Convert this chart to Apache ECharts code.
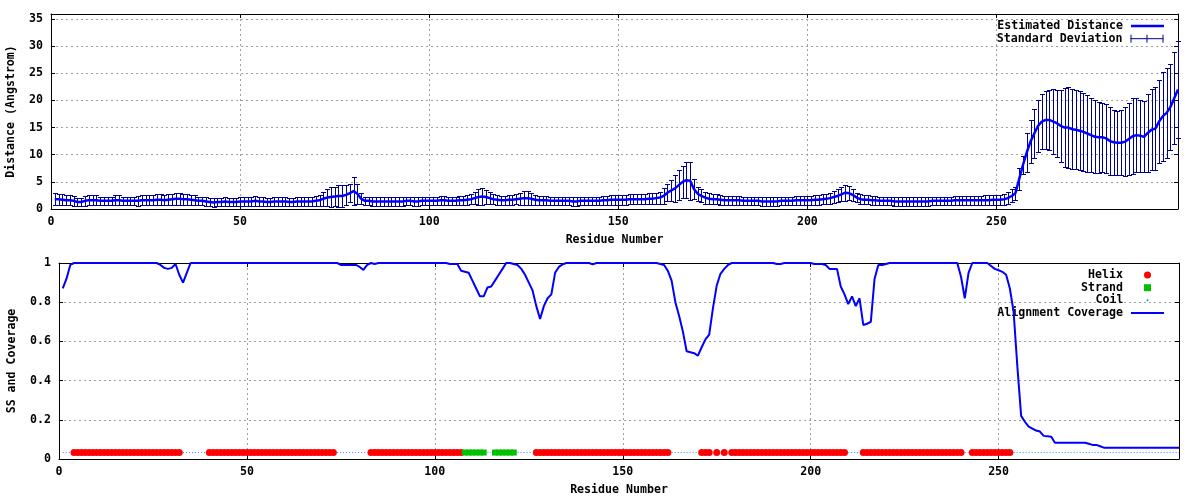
<!DOCTYPE html>
<html><head><meta charset="utf-8">
<script src="https://cdn.jsdelivr.net/npm/echarts@6/dist/echarts.min.js"></script>
<style>html,body{margin:0;padding:0;background:#fff}#c{width:1200px;height:500px}</style>
</head><body><div id="c"></div>
<script>
// ---------- data ----------
const residueStart = 1;
const residueAxisMax = 298;
const distanceAxisMax = 35.9;
const residueTickStep = 50;
const distanceTickStep = 5;
const coverageTickStep = 0.2;

const estimatedDistance = [
1.8,1.8,1.7,1.6,1.6,1.5,1.3,1.3,1.5,1.6,
1.6,1.6,1.5,1.5,1.5,1.5,1.6,1.6,1.5,1.5,
1.5,1.5,1.5,1.6,1.6,1.6,1.6,1.7,1.7,1.6,
1.7,1.8,1.9,1.9,1.8,1.8,1.7,1.6,1.5,1.5,
1.4,1.3,1.2,1.3,1.3,1.4,1.3,1.3,1.3,1.4,
1.4,1.4,1.4,1.5,1.4,1.4,1.3,1.3,1.4,1.4,
1.4,1.4,1.3,1.3,1.4,1.4,1.4,1.4,1.4,1.5,
1.6,1.9,2.1,2.2,2.3,2.4,2.4,2.6,2.9,3.3,
2.8,1.9,1.5,1.5,1.4,1.4,1.4,1.4,1.4,1.4,
1.4,1.4,1.4,1.5,1.5,1.4,1.4,1.5,1.5,1.5,
1.5,1.5,1.6,1.6,1.5,1.5,1.5,1.6,1.6,1.7,
1.8,2.0,2.2,2.3,2.2,2.0,1.8,1.7,1.6,1.6,
1.7,1.7,1.8,1.9,2.0,2.0,1.9,1.7,1.6,1.6,
1.6,1.5,1.5,1.5,1.5,1.5,1.5,1.4,1.4,1.5,
1.5,1.5,1.5,1.5,1.5,1.6,1.6,1.7,1.7,1.7,
1.7,1.7,1.8,1.8,1.8,1.8,1.8,1.9,1.9,2.0,
2.1,2.4,3.0,3.4,3.8,4.4,5.0,5.3,5.2,3.7,
2.8,2.4,2.1,1.9,1.8,1.8,1.7,1.6,1.6,1.6,
1.6,1.6,1.5,1.5,1.5,1.5,1.5,1.4,1.4,1.4,
1.4,1.4,1.5,1.5,1.5,1.5,1.6,1.6,1.6,1.6,
1.6,1.7,1.7,1.8,1.9,2.0,2.2,2.4,2.7,3.0,
2.9,2.6,2.1,1.8,1.7,1.7,1.6,1.6,1.5,1.5,
1.5,1.5,1.4,1.4,1.4,1.4,1.4,1.4,1.4,1.4,
1.4,1.4,1.5,1.5,1.5,1.5,1.5,1.5,1.6,1.6,
1.6,1.6,1.6,1.6,1.6,1.6,1.6,1.6,1.7,1.7,
1.7,1.8,2.0,2.4,2.9,5.5,8.1,10.4,12.4,13.9,
15.3,16.1,16.4,16.4,16.1,15.8,15.3,15.0,15.0,14.7,
14.6,14.4,14.2,13.9,13.6,13.3,13.2,13.2,13.0,12.5,
12.3,12.2,12.2,12.4,12.9,13.4,13.6,13.5,13.3,14.0,
14.6,14.8,16.1,17.1,17.7,18.8,20.4,22.0
];

const standardDeviation = [
1.1,1.0,1.0,0.9,0.9,0.9,0.8,0.8,0.9,0.9,
0.9,0.9,0.8,0.8,0.8,0.8,0.9,0.9,0.8,0.8,
0.8,0.8,0.9,0.9,0.9,0.9,0.9,1.0,1.0,0.9,
1.0,1.0,1.1,1.1,1.0,1.0,0.9,0.9,0.8,0.8,
0.8,0.8,0.8,0.8,0.8,0.8,0.8,0.8,0.8,0.8,
0.8,0.9,0.8,0.9,0.8,0.8,0.8,0.8,0.8,0.8,
0.8,0.8,0.8,0.8,0.8,0.8,0.8,0.8,0.8,0.9,
1.0,1.3,1.6,1.8,1.8,2.0,2.0,1.8,1.7,2.5,
1.8,1.0,0.8,0.8,0.8,0.8,0.8,0.8,0.8,0.8,
0.8,0.8,0.8,0.8,0.8,0.8,0.8,0.8,0.8,0.8,
0.8,0.8,0.8,0.8,0.8,0.8,0.8,0.8,0.8,0.9,
0.9,1.1,1.4,1.6,1.3,1.1,0.9,0.9,0.8,0.8,
0.9,0.9,0.9,1.1,1.3,1.3,1.1,0.9,0.8,0.8,
0.8,0.8,0.8,0.8,0.8,0.8,0.8,0.8,0.8,0.8,
0.8,0.8,0.8,0.8,0.8,0.8,0.8,0.9,0.9,0.9,
0.9,0.9,0.9,0.9,0.9,0.9,0.9,1.0,1.0,1.0,
1.1,1.4,1.6,1.9,2.5,2.8,2.9,3.3,3.5,1.8,
1.3,1.2,1.1,1.0,0.9,0.9,0.9,0.8,0.8,0.8,
0.8,0.8,0.8,0.8,0.8,0.8,0.8,0.8,0.8,0.8,
0.8,0.8,0.8,0.8,0.8,0.8,0.8,0.8,0.8,0.8,
0.8,0.9,0.9,0.9,0.9,1.0,1.1,1.2,1.3,1.5,
1.3,1.1,0.9,0.9,0.8,0.8,0.8,0.8,0.8,0.8,
0.8,0.8,0.8,0.8,0.8,0.8,0.8,0.8,0.8,0.8,
0.8,0.8,0.8,0.8,0.8,0.8,0.8,0.8,0.8,0.8,
0.8,0.8,0.8,0.8,0.8,0.8,0.9,0.9,0.9,0.9,
0.9,1.0,1.1,1.2,1.2,2.0,1.6,3.6,3.9,4.5,
4.8,5.0,5.4,5.6,6.0,6.2,6.7,7.3,7.4,7.4,
7.3,7.3,7.2,7.0,6.8,6.7,6.5,6.4,6.4,6.2,
6.0,5.9,6.0,6.3,6.6,7.0,6.8,6.6,6.5,7.2,
7.5,7.6,7.7,8.2,8.3,7.9,8.5,9.0
];

const alignmentCoverage = [
0.87,0.92,0.99,1,1,1,1,1,1,1,
1,1,1,1,1,1,1,1,1,1,
1,1,1,1,1,1,0.99,0.975,0.97,0.975,
0.995,0.94,0.90,0.95,1,1,1,1,1,1,
1,1,1,1,1,1,1,1,1,1,
1,1,1,1,1,1,1,1,1,1,
1,1,1,1,1,1,1,1,1,1,
1,1,1,1,0.99,0.99,0.99,0.99,0.99,0.98,
0.965,0.99,1,0.995,1,1,1,1,1,1,
1,1,1,1,1,1,1,1,1,1,
1,1,1,0.995,0.995,0.995,0.96,0.955,0.95,0.91,
0.87,0.83,0.83,0.875,0.88,0.91,0.94,0.97,1,1,
0.995,0.99,0.97,0.94,0.90,0.86,0.78,0.714,0.78,0.82,
0.84,0.95,0.98,0.993,1,1,1,1,1,1,
1,0.993,1,1,1,1,1,1,1,1,
1,1,1,1,1,1,1,1,1,0.995,
0.99,0.96,0.91,0.80,0.73,0.65,0.55,0.545,0.54,0.527,
0.57,0.61,0.635,0.77,0.885,0.945,0.97,0.99,1,1,
1,1,1,1,1,1,1,1,1,1,
0.995,0.995,1,1,1,1,1,1,1,1,
0.995,0.995,0.995,0.99,0.97,0.97,0.97,0.88,0.84,0.79,
0.83,0.78,0.82,0.684,0.69,0.70,0.92,0.99,0.99,0.995,
1,1,1,1,1,1,1,1,1,1,
1,1,1,1,1,1,1,1,1,0.93,
0.82,0.95,1,1,1,1,1,0.985,0.97,0.963,
0.955,0.94,0.87,0.75,0.47,0.22,0.19,0.165,0.155,0.145,
0.14,0.118,0.116,0.114,0.083,0.083,0.083,0.083,0.083,0.083,
0.083,0.083,0.083,0.078,0.072,0.072,0.065,0.058,0.058,0.058,
0.058,0.058,0.058,0.058,0.058,0.058,0.058,0.058,0.058,0.058,
0.058,0.058,0.058,0.058,0.058,0.058,0.058,0.058
];

// secondary structure as runs (H = helix, E = strand, C = coil)
const ssRunTypes   = ['C','H','C','H','C','H','E','C','E','C','H','C','H','C','H','C','H','C','H','C','H','C','H','C'];
const ssRunLengths = [ 3, 29,  7, 34,  9, 25,  6,  2,  6,  5, 36,  8,  3,  1,  1,  1,  1,  1, 31,  4, 27,  2, 11, 45];
const ssLevel = 0.033;

// ---------- build ----------
const residues = estimatedDistance.map((_, i) => residueStart + i);
const ss = [];
ssRunTypes.forEach((t, k) => { for (let j = 0; j < ssRunLengths[k]; j++) ss.push(t); });

const distPoints = residues.map((r, i) => [r, estimatedDistance[i]]);
const sdPoints = residues.map((r, i) => [r, estimatedDistance[i], standardDeviation[i]]);
const covPoints = residues.map((r, i) => [r, alignmentCoverage[i]]);
const helixPoints = residues.filter((r, i) => ss[i] === 'H').map(r => [r, ssLevel]);
const strandPoints = residues.filter((r, i) => ss[i] === 'E').map(r => [r, ssLevel]);
const coilPoints = residues.map((r, i) => [r, ss[i] === 'C' ? ssLevel : null]);

const FONT = "'DejaVu Sans Mono', 'Liberation Mono', monospace";
const txt = { fontFamily: FONT, fontSize: 11.6, fontWeight: 'bold', color: '#000' };
const gridLine = { show: true, lineStyle: { color: '#a0a0a0', type: [2, 3], width: 1 } };
const border = { show: true, onZero: false, lineStyle: { color: '#000', width: 1 } };
const tick = { show: true, inside: true, length: 4, lineStyle: { color: '#000', width: 1 } };

function xAxes(gridIndex) {
  return [
    { gridIndex, type: 'value', min: 0, max: residueAxisMax, interval: residueTickStep, position: 'bottom',
      axisLine: border, axisTick: tick, splitLine: gridLine,
      axisLabel: Object.assign({}, txt, { margin: 7, showMaxLabel: false }),
      name: 'Residue Number', nameLocation: 'middle', nameGap: 25, nameTextStyle: txt, nameMoveOverlap: false },
    { gridIndex, type: 'value', min: 0, max: residueAxisMax, interval: residueTickStep, position: 'top',
      axisLine: border, axisTick: tick, splitLine: { show: false }, axisLabel: { show: false } }
  ];
}
function yAxes(gridIndex, max, step, name, gap, showMax) {
  return [
    { gridIndex, type: 'value', min: 0, max, interval: step, position: 'left',
      axisLine: border, axisTick: tick, splitLine: gridLine,
      axisLabel: Object.assign({}, txt, { margin: 8, showMaxLabel: showMax }),
      name, nameLocation: 'middle', nameGap: gap, nameTextStyle: txt, nameMoveOverlap: false },
    { gridIndex, type: 'value', min: 0, max, interval: step, position: 'right',
      axisLine: border, axisTick: tick, splitLine: { show: false }, axisLabel: { show: false } }
  ];
}

function legendRow(name, icon, iconW, iconH, right, centerY, textPad, extra) {
  return Object.assign({
    data: [{ name, icon }], orient: 'horizontal', align: 'right', right, top: centerY - 6,
    itemWidth: iconW, itemHeight: iconH, padding: 0, selectedMode: false,
    textStyle: Object.assign({}, txt, { padding: [0, textPad, 0, 0] })
  }, extra || {});
}

const option = {
  animation: false,
  backgroundColor: '#fff',
  grid: [
    { left: 51, top: 14, width: 1127, height: 195, outerBoundsMode: 'none', containLabel: false },
    { left: 59, top: 263, width: 1120, height: 196, outerBoundsMode: 'none', containLabel: false }
  ],
  xAxis: [...xAxes(0), ...xAxes(1)],
  yAxis: [...yAxes(0, distanceAxisMax, distanceTickStep, 'Distance (Angstrom)', 34, false),
          ...yAxes(1, 1, coverageTickStep, 'SS and Coverage', 41, true)],
  legend: [
    legendRow('Estimated Distance', 'rect', 33, 2.5, 36, 26, 3),
    legendRow('Standard Deviation', 'path://M0,4L33,4M0.5,0L0.5,8M16.5,0L16.5,8M32.5,0L32.5,8', 33, 8, 36, 38.7, 3,
      { itemStyle: { color: 'rgba(0,0,0,0)', borderColor: '#000090', borderWidth: 1 } }),
    legendRow('Helix', 'circle', 7, 7, 49, 275, 16),
    legendRow('Strand', 'rect', 7, 7, 49, 287.7, 16),
    legendRow('Coil', 'circle', 2, 2, 51.5, 300.3, 18),
    legendRow('Alignment Coverage', 'rect', 33, 2, 36, 313, 3)
  ],
  series: [
    { name: 'Standard Deviation', type: 'custom', xAxisIndex: 0, yAxisIndex: 0, data: sdPoints,
      encode: { x: 0, y: 1 }, itemStyle: { color: '#000090' }, z: 2, silent: true,
      renderItem: function (params, api) {
        const x = api.value(0), y = api.value(1), s = api.value(2);
        const pt = api.coord([x, y + s]);
        const pb = api.coord([x, y - s]);
        const cx = Math.round(pt[0]) + 0.5;
        const ty = Math.round(pt[1]) + 0.5, by = Math.round(pb[1]) + 0.5;
        const hw = 2.5, st = { stroke: '#000090', lineWidth: 1 };
        return { type: 'group', children: [
          { type: 'line', shape: { x1: cx, y1: ty, x2: cx, y2: by }, style: st },
          { type: 'line', shape: { x1: cx - hw, y1: ty, x2: cx + hw, y2: ty }, style: st },
          { type: 'line', shape: { x1: cx - hw, y1: by, x2: cx + hw, y2: by }, style: st }
        ] };
      } },
    { name: 'Estimated Distance', type: 'line', xAxisIndex: 0, yAxisIndex: 0, data: distPoints,
      symbol: 'none', showSymbol: false, lineStyle: { color: '#0000ff', width: 2.5 },
      itemStyle: { color: '#0000ff' }, z: 3, silent: true },
    { name: 'Coil', type: 'line', xAxisIndex: 2, yAxisIndex: 2, data: coilPoints, connectNulls: false,
      symbol: 'none', showSymbol: false, lineStyle: { color: '#1a8cff', width: 1, type: [1, 2] },
      itemStyle: { color: '#1a8cff' }, z: 2, silent: true },
    { name: 'Helix', type: 'scatter', xAxisIndex: 2, yAxisIndex: 2, data: helixPoints,
      symbol: 'circle', symbolSize: 7, itemStyle: { color: '#ff0000', opacity: 1 }, z: 3, silent: true },
    { name: 'Strand', type: 'scatter', xAxisIndex: 2, yAxisIndex: 2, data: strandPoints,
      symbol: 'rect', symbolSize: 6, itemStyle: { color: '#00c000', opacity: 1 }, z: 3, silent: true },
    { name: 'Alignment Coverage', type: 'line', xAxisIndex: 2, yAxisIndex: 2, data: covPoints,
      symbol: 'none', showSymbol: false, lineStyle: { color: '#0000ff', width: 2 },
      itemStyle: { color: '#0000ff' }, z: 4, silent: true }
  ]
};

const chart = echarts.init(document.getElementById('c'), null, { renderer: 'canvas' });
chart.setOption(option);
</script>
</body></html>
